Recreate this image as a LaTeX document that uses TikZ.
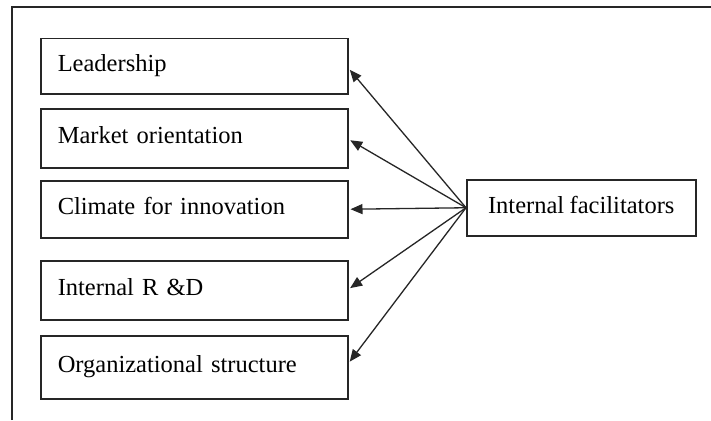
\documentclass[tikz,border=0pt]{standalone}
\usepackage{fontspec}
\setmainfont{Liberation Serif}
\usetikzlibrary{arrows.meta}
\newcommand{\diagfont}{\fontsize{24.5}{26}\selectfont\spaceskip=5.4pt plus 1pt minus 1pt\relax}
\begin{document}
\begin{tikzpicture}[x=1pt,y=-1pt,
  lw/.style={line width=1.5pt,draw=black!85},
  txt/.style={font=\diagfont},
  leftbox/.style={lw,txt,rectangle,anchor=north west,minimum width=307pt,inner xsep=17pt,
    text width=273pt,align=left,text height=17pt,text depth=6pt},
  facbox/.style={lw,txt,rectangle,anchor=north west,minimum width=229pt,minimum height=56pt,
    text height=17pt,text depth=6pt},
  arr/.style={line width=1.3pt,draw=black!85,-{Triangle[length=12pt,width=10pt]},shorten >=2pt}]
\useasboundingbox (0,0) rectangle (711,420);
\fill[white] (0,0) rectangle (711,420);
\draw[lw] (12,420) -- (12,7) -- (711,7);
\node[leftbox,minimum height=55pt] (lead) at (40,38) {Leadership};
\node[leftbox,minimum height=59pt] (mkt) at (40,108) {Market orientation};
\node[leftbox,minimum height=57pt] (clim) at (40,180) {Climate for innovation};
\node[leftbox,minimum height=59pt] (rd) at (40,260) {Internal R \&D};
\node[leftbox,minimum height=63pt] (org) at (40,335) {Organizational structure};
\node[facbox] (fac) at (466,179) {Internal facilitators};
\draw[arr] (fac.west) -- ([yshift=-2pt]lead.east);
\draw[arr] (fac.west) -- ([yshift=-1pt]mkt.east);
\draw[arr] (fac.west) -- (clim.east);
\draw[arr] (fac.west) -- ([yshift=1pt]rd.east);
\draw[arr] (fac.west) -- ([yshift=4pt]org.east);
\end{tikzpicture}
\end{document}
